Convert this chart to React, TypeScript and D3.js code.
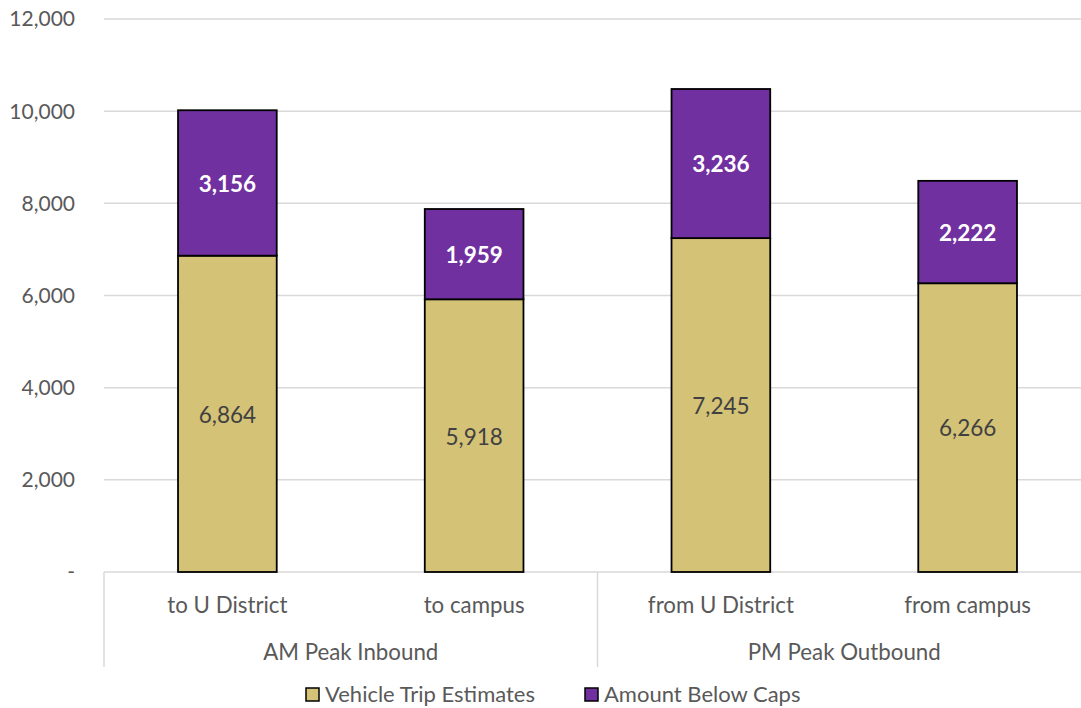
import React from "react";
import * as d3 from "d3";

const categories = ["to U District", "to campus", "from U District", "from campus"];
const groups = ["AM Peak Inbound", "PM Peak Outbound"];
const vehicleTrips = [6864, 5918, 7245, 6266];
const belowCaps = [3156, 1959, 3236, 2222];
const yTicks = [0, 2000, 4000, 6000, 8000, 10000, 12000];
const seriesNames = ["Vehicle Trip Estimates", "Amount Below Caps"];

const W = 1081;
const H = 708;
const FONT = "Lato, 'Open Sans', sans-serif";
const GOLD = "#D4C277";
const PURPLE = "#7030A0";
const TEXT = "#595959";

export default function App() {
  const x = d3
    .scaleBand<string>()
    .domain(categories)
    .range([104, 1091])
    .paddingInner(0.6)
    .paddingOuter(0.3);
  const y = d3.scaleLinear().domain([0, 12000]).range([572, 19]);
  const fmt = d3.format(",");
  const step = x.step();
  const x0 = 104;

  return (
    <div style={{ position: "absolute", left: 0, top: 0 }}>
      <svg width={W} height={H} style={{ display: "block", fontFamily: FONT }}>
        <rect width={W} height={H} fill="#fff" />
        {yTicks.map((t) => (
          <g key={t}>
            {t > 0 && (
              <line x1={x0} x2={W} y1={y(t)} y2={y(t)} stroke="#d9d9d9" strokeWidth={1.5} />
            )}
            <text
              x={75}
              y={y(t)}
              dy="0.35em"
              textAnchor="end"
              fontSize={21}
              fill={TEXT}
            >
              {t === 0 ? "-" : fmt(t)}
            </text>
          </g>
        ))}
        <line x1={x0} x2={W} y1={y(0)} y2={y(0)} stroke="#d9d9d9" strokeWidth={1.5} />
        {[0, 2].map((i) => (
          <line
            key={i}
            x1={x0 + i * step}
            x2={x0 + i * step}
            y1={y(0)}
            y2={667}
            stroke="#d9d9d9"
            strokeWidth={1.5}
          />
        ))}
        {categories.map((c, i) => {
          const bx = x(c)!;
          const bw = x.bandwidth();
          const v1 = vehicleTrips[i];
          const v2 = belowCaps[i];
          return (
            <g key={c}>
              <rect
                x={bx}
                y={y(v1)}
                width={bw}
                height={y(0) - y(v1)}
                fill={GOLD}
                stroke="#000"
                strokeWidth={1.8}
              />
              <rect
                x={bx}
                y={y(v1 + v2)}
                width={bw}
                height={y(v1) - y(v1 + v2)}
                fill={PURPLE}
                stroke="#000"
                strokeWidth={1.8}
              />
              <text
                x={bx + bw / 2}
                y={(y(0) + y(v1)) / 2 + 1}
                dy="0.35em"
                textAnchor="middle"
                fontSize={22.5}
                fill="#404040"
              >
                {fmt(v1)}
              </text>
              <text
                x={bx + bw / 2}
                y={(y(v1) + y(v1 + v2)) / 2 + 1}
                dy="0.35em"
                textAnchor="middle"
                fontSize={22.5}
                fontWeight="bold"
                fill="#fff"
              >
                {fmt(v2)}
              </text>
              <text
                x={bx + bw / 2}
                y={605}
                dy="0.35em"
                textAnchor="middle"
                fontSize={22.3}
                fill={TEXT}
              >
                {c}
              </text>
            </g>
          );
        })}
        {groups.map((g, i) => (
          <text
            key={g}
            x={x0 + step * (2 * i + 1)}
            y={652}
            dy="0.35em"
            textAnchor="middle"
            fontSize={22.3}
            fill={TEXT}
          >
            {g}
          </text>
        ))}
        {seriesNames.map((s, i) => {
          const lx = i === 0 ? 306 : 585;
          return (
            <g key={s}>
              <rect
                x={lx}
                y={688}
                width={13}
                height={13}
                fill={i === 0 ? GOLD : PURPLE}
                stroke="#000"
                strokeWidth={1.5}
              />
              <text x={lx + 19} y={694} dy="0.35em" fontSize={22} fill={TEXT}>
                {s}
              </text>
            </g>
          );
        })}
      </svg>
    </div>
  );
}
